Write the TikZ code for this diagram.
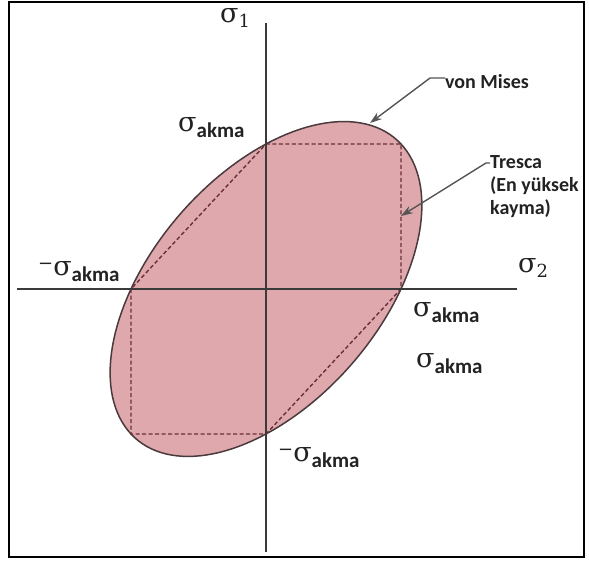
\documentclass[tikz,border=0pt]{standalone}
\usepackage{fontspec}
\setmainfont{Carlito}
\newfontfamily\sigmafont{DejaVu Serif}
\usetikzlibrary{arrows.meta}
\definecolor{yieldfill}{HTML}{DEA8AC}
\definecolor{yieldedge}{HTML}{4B3A3D}
\definecolor{trescared}{HTML}{6B2F3A}
\definecolor{axisink}{HTML}{3A3A3A}
\definecolor{calloutgray}{HTML}{555555}
\definecolor{labelink}{HTML}{222222}
\newcommand{\sigak}{{\sigmafont\mdseries\fontsize{27}{30}\selectfont σ}\raisebox{-6pt}{akma}}
\newcommand{\negsigak}{\raisebox{6pt}{\sigmafont\mdseries\fontsize{18}{20}\selectfont −}\sigak}
\newcommand{\sigaxis}[1]{{\sigmafont\mdseries\fontsize{27}{30}\selectfont σ\raisebox{-5pt}{\fontsize{18}{20}\selectfont #1}}}

\begin{document}
\begin{tikzpicture}[x=1pt, y=1pt,
  lbl/.style={inner sep=0pt, text=labelink, font=\bfseries\fontsize{21}{23}\selectfont},
  note/.style={inner sep=0pt, text=labelink, font=\bfseries\fontsize{20}{23}\selectfont},
  callout/.style={calloutgray, line width=1.4pt, -{Stealth[length=12pt, width=8pt]}}]
  % von Mises ellipse through (+-a,0), (0,+-b), (a,b), (-a,-b); Tresca hexagon inside it
  \def\a{135} \def\b{145}
  \useasboundingbox (-266,-272) rectangle (323,289);
  \draw[line width=1.8pt] (-257,-268) rectangle (318,287);
  \filldraw[fill=yieldfill, draw=yieldedge, line width=1.5pt]
    plot[domain=0:360, samples=145, variable=\t]
    ({\a*(cos(\t)+0.5774*sin(\t))}, {\b*(cos(\t)-0.5774*sin(\t))}) -- cycle;
  \draw[trescared, line width=1.4pt, dash pattern=on 4pt off 2.5pt]
    (0,\b) -- (\a,\b) -- (\a,0) -- (0,-\b) -- (-\a,-\b) -- (-\a,0) -- cycle;
  \draw[axisink, line width=1.2pt] (-249,0) -- (251,0);
  \draw[axisink, line width=1.2pt] (0,266) -- (0,-263);

  \node[lbl, anchor=base west] (s1) at (-46,266) {\sigaxis{1}};
  \node[lbl, anchor=base west] (s2) at (252,16) {\sigaxis{2}};
  \node[lbl, anchor=base west] (ytop) at (-88,157) {\sigak};
  \node[lbl, anchor=base west] (yleft) at (-228,13) {\negsigak};
  \node[lbl, anchor=base west] (yright) at (147,-28) {\sigak};
  \node[lbl, anchor=base west] (yright2) at (150,-79) {\sigak};
  \node[lbl, anchor=base west] (ybot) at (12,-173) {\negsigak};

  \node[note, anchor=base west] (vm) at (179,200) {von Mises};
  \node[note, anchor=north west, align=left] (tr) at (224,134) {Tresca\\(En yüksek\\kayma)};
  \coordinate (vmtip) at (104,166);
  \coordinate (trtip) at (\a,73);
  \draw[callout] ([yshift=4pt]vm.west) -- ++(-15,0) -- (vmtip);
  \draw[callout] ([yshift=-8pt]tr.north west) -- ++(-4,0) -- (trtip);
\end{tikzpicture}
\end{document}
